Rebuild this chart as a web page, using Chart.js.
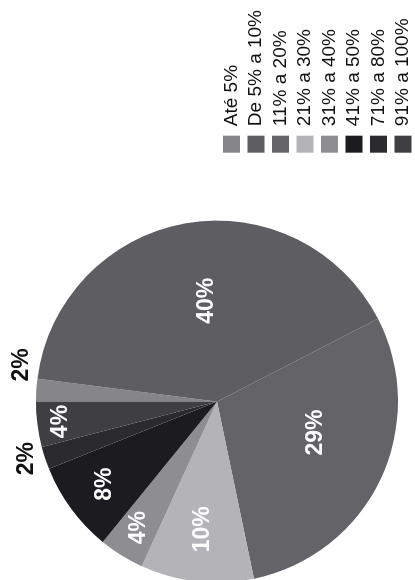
<!DOCTYPE html>
<html>
<head>
<meta charset="utf-8">
<title>Faixas</title>
<script src="https://cdn.jsdelivr.net/npm/chart.js@4.4.0/dist/chart.umd.min.js"></script>
<style>
  html, body { margin: 0; padding: 0; background: #fff; overflow: hidden; }
  /* the chart is laid out landscape and turned a quarter turn to the left;
     its outer strips fall off the page and are not seen */
  #wrap {
    position: absolute;
    left: 0;
    top: 0;
    width: 645px;
    height: 418px;
    transform-origin: 0 0;
    transform: translate(0, 645px) rotate(-90deg);
  }
</style>
</head>
<body>
<div id="wrap"><canvas id="faixas" width="645" height="418"></canvas></div>
<script>
const faixas = ['Até 5%', 'De 5% a 10%', '11% a 20%', '21% a 30%', '31% a 40%', '41% a 50%', '71% a 80%', '91% a 100%'];
const percentuais = [2, 40, 29, 10, 4, 8, 2, 4];
const cores = ['#85858a', '#5d5d62', '#636368', '#b4b4b8', '#8e8e92', '#1c1c20', '#2b2b2f', '#3e3e43'];

// where each value label sits: fraction of the radius, and a small turn (degrees)
const labelDist = [1.10, 0.56, 0.57, 0.71, 0.82, 0.77, 1.10, 0.87];
const labelTurn = [7, 4, -8, 0, 0, 0, 1.5, 0];

const valueLabels = {
    id: 'valueLabels',
    afterDatasetsDraw(chart) {
        const ctx = chart.ctx;
        const arcs = chart.getDatasetMeta(0).data;
        ctx.save();
        ctx.font = 'bold 23px "Liberation Sans", Arial, sans-serif';
        ctx.textAlign = 'center';
        ctx.textBaseline = 'middle';
        arcs.forEach((arc, i) => {
            const p = arc.getProps(['x', 'y', 'startAngle', 'endAngle', 'outerRadius'], true);
            const a = (p.startAngle + p.endAngle) / 2 + labelTurn[i] * Math.PI / 180;
            const d = p.outerRadius * labelDist[i];
            ctx.fillStyle = labelDist[i] > 1 ? '#111' : '#fff';
            ctx.fillText(percentuais[i] + '%', p.x + Math.cos(a) * d, p.y + Math.sin(a) * d);
        });
        ctx.restore();
    }
};

const ctx = document.getElementById('faixas').getContext('2d');
new Chart(ctx, {
    type: 'pie',
    data: {
        labels: faixas,
        datasets: [{
            data: percentuais,
            backgroundColor: cores,
            borderWidth: 0
        }]
    },
    options: {
        responsive: false,
        animation: false,
        radius: 181,
        layout: {
            padding: { left: 0, top: 16, right: 0, bottom: 0 }
        },
        plugins: {
            legend: {
                position: 'right',
                align: 'end',
                labels: {
                    color: '#111',
                    boxWidth: 17,
                    boxHeight: 17,
                    padding: 5.5,
                    font: { family: '"Liberation Sans", Arial, sans-serif', size: 19 }
                }
            },
            tooltip: { enabled: false }
        }
    },
    plugins: [valueLabels]
});
</script>
</body>
</html>
